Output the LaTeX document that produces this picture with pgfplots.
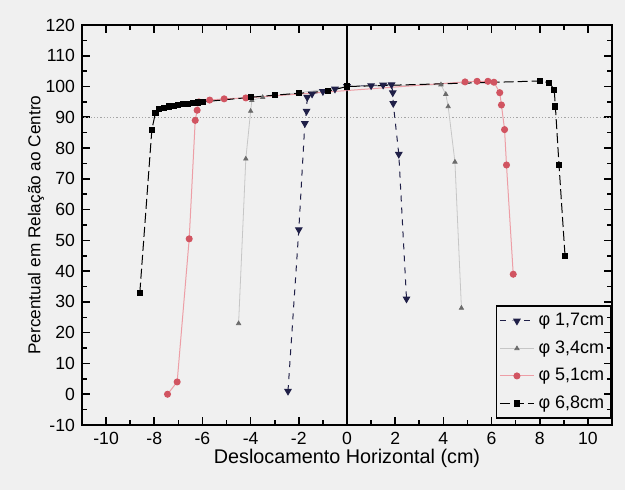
\documentclass[border=0pt]{standalone}
\usepackage{pgfplots}
\pgfplotsset{compat=1.18}
\usepackage{fontspec}
\setmainfont{Liberation Sans}
\definecolor{bg}{rgb}{0.94,0.94,0.94}
\definecolor{sA}{rgb}{0.12,0.12,0.28}
\definecolor{sB}{rgb}{0.42,0.42,0.42}
\definecolor{sC}{rgb}{0.82,0.33,0.38}
\definecolor{sCl}{rgb}{0.93,0.62,0.65}
\begin{document}
\begin{tikzpicture}
\fill[bg] (-41pt,-32.5pt) rectangle (271.5pt,212.5pt);
\begin{axis}[
  scale only axis, width=265pt, height=200pt,
  xmin=-11, xmax=11, ymin=-10, ymax=120,
  xtick={-10,-8,...,10}, ytick={-10,0,...,120},
  minor x tick num=1, minor y tick num=1,
  tick align=inside,
  major tick length=4pt, minor tick length=2.5pt,
  axis line style={line width=0.9pt},
  every tick/.style={black, line width=0.8pt},
  tick label style={font=\fontsize{8.8}{10}\selectfont},
  /pgf/number format/assume math mode=true,
  xlabel={Deslocamento Horizontal (cm)},
  ylabel={Percentual em Relação ao Centro},
  x label style={font=\fontsize{9.9}{11}\selectfont, at={(axis description cs:0.5,-0.083)}, anchor=center},
  y label style={font=\fontsize{8.6}{10}\selectfont, at={(axis description cs:-0.087,0.5)}, anchor=center},
  legend style={at={(1,0.015)}, anchor=south east, draw=black, line width=0.8pt,
    fill=none, font=\fontsize{9}{10.5}\selectfont, row sep=2pt, inner sep=1.5pt},
  legend cell align=left,
]
\addplot[gray!70, densely dotted, line width=0.6pt, forget plot] coordinates {(-10.9,90) (11,90)};
\addplot[black, line width=1pt, forget plot] coordinates {(0,-10) (0,120)};

% phi 1,7 cm
\addplot[sA, dashed, line width=0.5pt, mark=triangle*, mark size=1.8pt,
  mark options={solid, rotate=180, fill=sA}] coordinates {
(-2.45,1) (-2.0,53.5) (-1.75,88) (-1.68,92) (-1.65,96.5) (-1.45,97.6) (-1.0,98.4) (-0.5,99.2) (0,100)
(1.0,100.3) (1.5,100.5) (1.85,100.6) (1.9,98) (1.92,94.5) (2.15,78) (2.47,31)};
\addlegendentry{φ 1,7cm}

% phi 3,4 cm
\addplot[gray!45, line width=0.4pt, mark=triangle*, mark size=1.2pt,
  mark options={sB, fill=sB}] coordinates {
(-4.5,23) (-4.2,76.5) (-4.0,92) (-3.95,95.5) (-3.5,96.5) (0,100)
(3.9,100.6) (4.1,97.5) (4.2,93.5) (4.48,75.5) (4.75,28)};
\addlegendentry{φ 3,4cm}

% phi 5,1 cm
\addplot[sCl, line width=0.5pt, mark=*, mark size=1.5pt,
  mark options={sC, fill=sC}] coordinates {
(-7.45,0) (-7.05,4) (-6.55,50.5) (-6.3,89) (-6.22,92.3) (-6.15,95) (-5.7,95.6) (-5.1,96) (-4.2,96.3)
(4.9,101.5) (5.4,101.7) (5.85,101.7) (6.1,101.4) (6.34,98) (6.41,94) (6.54,86) (6.62,74.5) (6.9,39)};
\addlegendentry{φ 5,1cm}

% phi 6,8 cm
\addplot[black, dash pattern=on 5pt off 2pt, line width=0.5pt, mark=square*, mark size=1.3pt,
  mark options={solid, fill=black}] coordinates {
(-8.6,33) (-8.1,86) (-7.95,91.5) (-7.8,92.6) (-7.6,93.1) (-7.4,93.5) (-7.2,93.8) (-7.0,94.0)
(-6.8,94.2) (-6.6,94.4) (-6.4,94.6) (-6.2,94.8) (-6.0,95.0) (-4.0,96.5)
(-3.0,97.2) (-2.0,97.8) (-0.8,98.5) (0,100)
(8.0,101.8) (8.4,101.2) (8.6,99) (8.65,93.5) (8.8,74.5) (9.05,45)};
\addlegendentry{φ 6,8cm}
\end{axis}
\pgfresetboundingbox
\useasboundingbox (-41pt,-32.5pt) rectangle (271.5pt,212.5pt);
\end{tikzpicture}
\end{document}
